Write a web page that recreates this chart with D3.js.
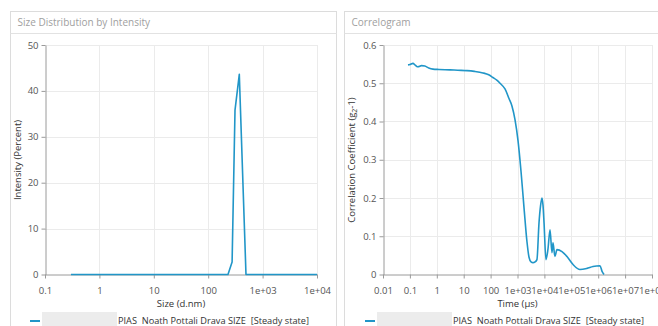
<!DOCTYPE html>
<html>
<head>
<meta charset="utf-8">
<script src="https://d3js.org/d3.v7.min.js"></script>
<style>
  body { margin: 0; background: #fff; }
  svg { font-family: "Open Sans", "Noto Sans", sans-serif; }
</style>
</head>
<body>
<svg id="chart" width="658" height="326"></svg>
<script>
// size distribution (d.nm, intensity %)
var sizeNm = [0.3, 231, 275, 311, 373, 495, 10000];
var intensity = [0, 0, 2.7, 35.8, 43.6, 0, 0];
var sizeTicks = [0.1, 1, 10, 100, 1000, 10000];
var sizeTickLabels = ["0.1", "1", "10", "100", "1e+03", "1e+04"];
var intensityTicks = [0, 10, 20, 30, 40, 50];

// correlogram (time µs, g2-1)
var timeUs = [0.085, 0.1, 0.13, 0.16, 0.2, 0.27, 0.36, 0.5, 0.72, 1.2, 3.1, 6, 13.3, 25, 52, 85, 122, 170, 224, 343, 483, 625, 807, 1045, 1350, 1745, 2255, 2680, 3180, 3770, 4500, 5280, 6300, 7200, 8130, 8900, 9700, 11400, 13500, 16200, 19100, 20900, 24600, 29300, 45000, 69000, 116000, 210000, 380000, 640000, 1170000, 1390000, 1650000];
var corr = [0.548, 0.549, 0.552, 0.547, 0.543, 0.546, 0.545, 0.540, 0.537, 0.536, 0.535, 0.534, 0.533, 0.531, 0.527, 0.522, 0.515, 0.508, 0.500, 0.485, 0.460, 0.440, 0.405, 0.350, 0.270, 0.175, 0.085, 0.045, 0.033, 0.031, 0.033, 0.039, 0.135, 0.180, 0.200, 0.180, 0.135, 0.039, 0.065, 0.117, 0.057, 0.083, 0.047, 0.065, 0.060, 0.047, 0.026, 0.013, 0.016, 0.021, 0.023, 0.008, 0];
var timeTicks = [0.01, 0.1, 1, 10, 100, 1e3, 1e4, 1e5, 1e6, 1e7, 1e8];
var timeTickLabels = ["0.01", "0.1", "1", "10", "100", "1e+03", "1e+04", "1e+05", "1e+06", "1e+07", "1e+08"];
var corrTicks = [0, 0.1, 0.2, 0.3, 0.4, 0.5, 0.6];
var corrTickLabels = ["0", "0.1", "0.2", "0.3", "0.4", "0.5", "0.6"];

var legendText = "PIAS  Noath Pottali Drava SIZE  [Steady state]";
var lineColor = "#2196c8";

var svg = d3.select("#chart");

function panel(opt) {
  var g = svg.append("g");
  // frame + title bar
  g.append("rect").attr("x", opt.px).attr("y", 11.5).attr("width", opt.pw).attr("height", 330)
    .attr("fill", "none").attr("stroke", "#dcdcdc");
  g.append("line").attr("x1", opt.px).attr("x2", opt.px + opt.pw).attr("y1", 33.5).attr("y2", 33.5)
    .attr("stroke", "#e2e2e2");
  g.append("text").attr("x", opt.px + 7).attr("y", 26).attr("font-size", 10)
    .attr("fill", "#a0a0a0").text(opt.title);

  var x = d3.scaleLog().domain(opt.xDomain).range(opt.xRange);
  var y = d3.scaleLinear().domain(opt.yDomain).range([274.5, 45]);

  // grid
  g.selectAll(".vg").data(opt.xTicks.slice(1)).enter().append("line")
    .attr("x1", function(d){ return Math.round(x(d)) + 0.5; })
    .attr("x2", function(d){ return Math.round(x(d)) + 0.5; })
    .attr("y1", 45).attr("y2", 274.5).attr("stroke", "#ebebeb");
  g.selectAll(".hg").data(opt.yTicks.slice(1)).enter().append("line")
    .attr("x1", opt.xRange[0]).attr("x2", opt.xRange[1])
    .attr("y1", function(d){ return Math.round(y(d)) + 0.5; })
    .attr("y2", function(d){ return Math.round(y(d)) + 0.5; })
    .attr("stroke", "#ebebeb");

  // axes
  var xAxis = d3.axisBottom(x).tickValues(opt.xTicks)
    .tickFormat(function(d, i){ return opt.xLabels[i]; }).tickSize(4).tickSizeOuter(0);
  var yAxis = d3.axisLeft(y).tickValues(opt.yTicks)
    .tickFormat(function(d, i){ return opt.yLabels[i]; }).tickSize(4).tickSizeOuter(0);

  var gx = g.append("g").attr("transform", "translate(0,274.5)").call(xAxis);
  var gy = g.append("g").attr("transform", "translate(" + (Math.round(opt.xRange[0]) + 0.5) + ",0)").call(yAxis);
  [gx, gy].forEach(function(a){
    a.select(".domain").attr("stroke", "#9a9a9a");
    a.selectAll(".tick line").attr("stroke", "#9a9a9a");
    a.selectAll(".tick text").attr("fill", "#555").attr("font-size", 9.5)
      .attr("font-family", "\"Open Sans\", sans-serif");
  });
  gx.selectAll(".tick text").attr("dy", "1.3em");

  // data line
  g.append("path").datum(opt.xs.map(function(d, i){ return [d, opt.ys[i]]; }))
    .attr("fill", "none").attr("stroke", lineColor).attr("stroke-width", 1.6)
    .attr("stroke-linejoin", "round")
    .attr("d", d3.line().x(function(d){ return x(d[0]); }).y(function(d){ return y(d[1]); }).curve(opt.curve));

  // axis titles
  g.append("text").attr("x", (opt.xRange[0] + opt.xRange[1]) / 2).attr("y", 307)
    .attr("text-anchor", "middle").attr("font-size", 9.5).attr("fill", "#333").text(opt.xTitle);
  var yt = g.append("text").attr("transform", "translate(" + opt.yTitleX + ",160) rotate(-90)")
    .attr("text-anchor", "middle").attr("font-size", 9.5).attr("fill", "#333");
  opt.yTitle(yt);

  // legend
  g.append("line").attr("x1", opt.lx).attr("x2", opt.lx + 10).attr("y1", 321).attr("y2", 321)
    .attr("stroke", lineColor).attr("stroke-width", 2);
  g.append("rect").attr("x", opt.lx + 12).attr("y", 312).attr("width", 75).attr("height", 14)
    .attr("fill", "#ececec");
  g.append("text").attr("x", opt.lx + 88).attr("y", 324).attr("font-size", 9.2).attr("fill", "#333")
    .style("white-space", "pre").text(legendText);
}

panel({
  px: 10.5, pw: 326, title: "Size Distribution by Intensity",
  xDomain: [0.1, 10000], xRange: [45, 317], yDomain: [0, 50],
  xTicks: sizeTicks, xLabels: sizeTickLabels,
  yTicks: intensityTicks, yLabels: intensityTicks.map(String),
  xs: sizeNm, ys: intensity, curve: d3.curveLinear,
  xTitle: "Size (d.nm)", yTitleX: 21,
  yTitle: function(t){ t.text("Intensity (Percent)"); },
  lx: 30
});

panel({
  px: 344.5, pw: 330, title: "Correlogram",
  xDomain: [0.01, 1e8], xRange: [383, 652], yDomain: [0, 0.6],
  xTicks: timeTicks, xLabels: timeTickLabels,
  yTicks: corrTicks, yLabels: corrTickLabels,
  xs: timeUs, ys: corr, curve: d3.curveMonotoneX,
  xTitle: "Time (µs)", yTitleX: 355,
  yTitle: function(t){
    t.append("tspan").text("Correlation Coefficient (g");
    t.append("tspan").attr("font-size", 7).attr("dy", 2).text("2");
    t.append("tspan").attr("dy", -2).text("-1)");
  },
  lx: 365
});
</script>
</body>
</html>
